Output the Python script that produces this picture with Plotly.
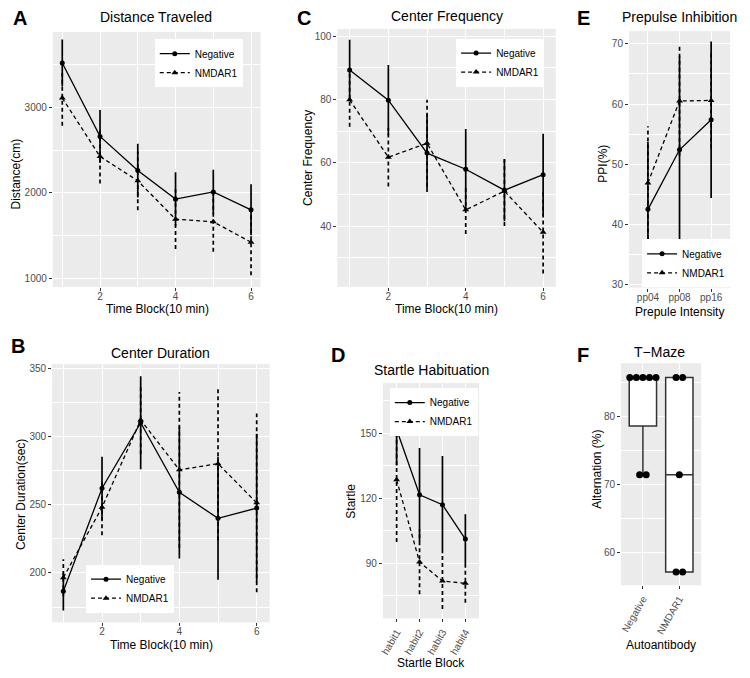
import plotly.graph_objects as go
from collections import Counter

# ---- data ----
blocks = [1, 2, 3, 4, 5, 6]

dist_neg = [3520, 2660, 2260, 1925, 2010, 1800]
dist_neg_sd = [275, 310, 315, 315, 258, 298]
dist_nmdar = [3110, 2425, 2140, 1690, 1660, 1420]
dist_nmdar_sd = [325, 317, 345, 350, 352, 388]

freq_neg = [89.3, 79.8, 63.1, 58.0, 51.4, 56.3]
freq_neg_sd = [9.6, 11.1, 12.3, 12.7, 9.8, 12.9]
freq_nmdar = [79.9, 61.8, 66.2, 45.2, 51.1, 38.1]
freq_nmdar_sd = [8.5, 9.2, 13.7, 7.6, 11.0, 13.0]

dur_neg = [186.5, 262, 310, 259, 240, 247.5]
dur_neg_sd = [14, 23, 34, 48.5, 45, 54.5]
dur_nmdar = [196.5, 248, 312, 275.5, 280, 251.3]
dur_nmdar_sd = [13.5, 20.5, 25, 57, 56, 65.5]

ppi_labels = ['pp04', 'pp08', 'pp16']
ppi_neg = [42.5, 52.4, 57.4]
ppi_neg_sd = [11.2, 15.5, 13.0]
ppi_nmdar = [46.9, 60.5, 60.6]
ppi_nmdar_sd = [9.4, 9.1, 8.0]

startle_labels = ['habit1', 'habit2', 'habit3', 'habit4']
startle_neg = [151.8, 121.6, 117.0, 101.1]
startle_neg_sd = [16.6, 21.7, 22.5, 11.5]
startle_nmdar = [128.5, 90.5, 81.7, 80.6]
startle_nmdar_sd = [28.8, 15.0, 13.0, 9.0]

tmaze_groups = ['Negative', 'NMDAR1']
tmaze_neg = [85.71, 85.71, 85.71, 85.71, 85.71, 71.43, 71.43]
tmaze_nmdar = [85.71, 85.71, 71.43, 57.14, 57.14]

# page has an 8px body margin, so the figure is laid out in page pixels minus OFF
OFF = 8
FW, FH = 750 - OFF, 678 - OFF
FONT = 'Liberation Sans'
TICK_GRAY = '#4D4D4D'
NMDAR_DASH = '4px,3px'


def px_x(x):
    return (x - OFF) / FW


def px_y(y):
    return 1 - (y - OFF) / FH


def dom_x(left, right):
    return [px_x(left), px_x(right)]


def dom_y(top, bottom):
    return [px_y(bottom), px_y(top)]


def axis(domain, rng, dtick=None, tick0=0, minor=None, tickvals=None, ticktext=None,
         angle=0, standoff=0):
    a = dict(domain=domain, range=rng, showgrid=True, gridcolor='white', gridwidth=1.1,
             zeroline=False, showline=False, ticks='outside', ticklen=3, tickwidth=1,
             tickcolor='#333333', tickangle=angle, ticklabelstandoff=standoff,
             tickfont=dict(family=FONT, size=10, color=TICK_GRAY))
    if tickvals is not None:
        a.update(tickmode='array', tickvals=tickvals, ticktext=ticktext)
    else:
        a.update(tickmode='linear', tick0=tick0, dtick=dtick)
    if minor:
        a['minor'] = dict(tickmode='linear', tick0=tick0, dtick=minor, showgrid=True,
                          gridcolor='white', gridwidth=0.5, ticks='')
    return a


def add_series(fig, x, mean, sd, name, xa, ya, legend, nmdar):
    dash = NMDAR_DASH if nmdar else 'solid'
    ex, ey = [], []
    for xi, m, s in zip(x, mean, sd):
        ex += [xi, xi, None]
        ey += [m - s, m + s, None]
    fig.add_trace(go.Scatter(x=ex, y=ey, mode='lines', xaxis=xa, yaxis=ya,
                             line=dict(color='black', width=1.7, dash=dash),
                             showlegend=False, hoverinfo='skip'))
    fig.add_trace(go.Scatter(x=x, y=mean, mode='lines+markers', name=name, xaxis=xa, yaxis=ya,
                             legend=legend, showlegend=True,
                             line=dict(color='black', width=1.3, dash=dash),
                             marker=dict(color='black', size=6 if nmdar else 5,
                                         symbol='triangle-up' if nmdar else 'circle')))


def dot_positions(center, values, step=0.18):
    xs, ys = [], []
    for v, k in sorted(Counter(values).items()):
        for i in range(k):
            xs.append(center + (i - (k - 1) / 2) * step)
            ys.append(v)
    return xs, ys


fig = go.Figure()

# A - distance
add_series(fig, blocks, dist_neg, dist_neg_sd, 'Negative', 'x', 'y', 'legend', False)
add_series(fig, blocks, dist_nmdar, dist_nmdar_sd, 'NMDAR1', 'x', 'y', 'legend', True)
# C - center frequency
add_series(fig, blocks, freq_neg, freq_neg_sd, 'Negative', 'x2', 'y2', 'legend2', False)
add_series(fig, blocks, freq_nmdar, freq_nmdar_sd, 'NMDAR1', 'x2', 'y2', 'legend2', True)
# E - PPI
ppi_x = list(range(len(ppi_labels)))
add_series(fig, ppi_x, ppi_neg, ppi_neg_sd, 'Negative', 'x3', 'y3', 'legend3', False)
add_series(fig, ppi_x, ppi_nmdar, ppi_nmdar_sd, 'NMDAR1', 'x3', 'y3', 'legend3', True)
# B - center duration
add_series(fig, blocks, dur_neg, dur_neg_sd, 'Negative', 'x4', 'y4', 'legend4', False)
add_series(fig, blocks, dur_nmdar, dur_nmdar_sd, 'NMDAR1', 'x4', 'y4', 'legend4', True)
# D - startle
st_x = list(range(len(startle_labels)))
add_series(fig, st_x, startle_neg, startle_neg_sd, 'Negative', 'x5', 'y5', 'legend5', False)
add_series(fig, st_x, startle_nmdar, startle_nmdar_sd, 'NMDAR1', 'x5', 'y5', 'legend5', True)

# F - T-maze boxes + dots
for i, vals in enumerate([tmaze_neg, tmaze_nmdar]):
    fig.add_trace(go.Box(x=[i] * len(vals), y=vals, width=0.75, xaxis='x6', yaxis='y6',
                         fillcolor='white', line=dict(color='#333333', width=1.5),
                         whiskerwidth=0, boxpoints=False, quartilemethod='inclusive',
                         showlegend=False, hoverinfo='skip'))
    dx, dy = dot_positions(i, vals)
    fig.add_trace(go.Scatter(x=dx, y=dy, mode='markers', xaxis='x6', yaxis='y6',
                             marker=dict(color='black', size=7), showlegend=False))

layout = dict(
    width=FW, height=FH, margin=dict(l=0, r=0, t=0, b=0),
    paper_bgcolor='white', plot_bgcolor='#EBEBEB',
    font=dict(family=FONT, color='black'),
    xaxis=axis(dom_x(50, 258.5), [0.75, 6.25], dtick=2, minor=1, standoff=-3),
    yaxis=axis(dom_y(30, 286.7), [895, 3885], dtick=1000, minor=500),
    xaxis2=axis(dom_x(335.7, 555), [0.683, 6.327], dtick=2, minor=1, standoff=-3),
    yaxis2=axis(dom_y(27, 286.5), [20.9, 102.3], dtick=20, minor=10),
    xaxis3=axis(dom_x(628.5, 730), [-0.6, 2.6], tickvals=ppi_x, ticktext=ppi_labels, standoff=-3),
    yaxis3=axis(dom_y(29.3, 287.3), [29.5, 72.1], dtick=10, minor=5),
    xaxis4=axis(dom_x(49.3, 267.7), [0.71, 6.335], dtick=2, minor=1, standoff=-3),
    yaxis4=axis(dom_y(364.3, 624), [163.8, 352.9], dtick=50, minor=25),
    xaxis5=axis(dom_x(381.4, 478), [-0.6, 3.6], tickvals=st_x, ticktext=startle_labels, angle=-60),
    yaxis5=axis(dom_y(383.3, 620), [64.4, 173.3], dtick=30, minor=15),
    xaxis6=axis(dom_x(620.5, 701), [-0.6, 1.6], tickvals=[0, 1], ticktext=tmaze_groups, angle=-60),
    yaxis6=axis(dom_y(363.3, 586.7), [55.2, 87.8], dtick=10, minor=5),
)
for ax in ['xaxis', 'xaxis2', 'xaxis3', 'xaxis4', 'xaxis5', 'xaxis6']:
    n = ax[5:]
    layout[ax]['anchor'] = 'y' + n
    layout['yaxis' + n]['anchor'] = 'x' + n


def legend_box(xpx, ypx, xanchor, yanchor):
    return dict(x=px_x(xpx), y=px_y(ypx), xanchor=xanchor, yanchor=yanchor,
                bgcolor='white', borderwidth=0, itemwidth=30,
                font=dict(family=FONT, size=10, color='black'), tracegroupgap=2)


layout['legend'] = legend_box(240.7, 37.3, 'right', 'top')
layout['legend2'] = legend_box(543.3, 36.7, 'right', 'top')
layout['legend3'] = legend_box(730, 287, 'right', 'bottom')
layout['legend4'] = legend_box(171.7, 614.3, 'right', 'bottom')
layout['legend5'] = legend_box(476.7, 388.3, 'right', 'top')

ann = []


def text(x, y, s, size, angle=0, bold=False):
    ann.append(dict(x=px_x(x), y=px_y(y), xref='paper', yref='paper',
                    text=f'<b>{s}</b>' if bold else s,
                    showarrow=False, textangle=angle, xanchor='center', yanchor='middle',
                    font=dict(family=FONT, size=size, color='black')))


# panel titles
text(154, 15, 'Distance Traveled', 14)
text(445.5, 14, 'Center Frequency', 14)
text(679, 15, 'Prepulse Inhibition', 14)
text(158, 353, 'Center Duration', 14)
text(430, 370, 'Startle Habituation', 14)
text(659, 352, 'T−Maze', 14)
# axis titles
text(155, 309, 'Time Block(10 min)', 12)
text(445, 309, 'Time Block(10 min)', 12)
text(679, 312, 'Prepule Intensity', 12)
text(159, 647, 'Time Block(10 min)', 12)
text(430, 665, 'Startle Block', 12)
text(661, 647, 'Autoantibody', 12)
text(13.5, 173, 'Distance(cm)', 12, -90)
text(306, 157, 'Center Frequency', 12, -90)
text(602, 163, 'PPI(%)', 12, -90)
text(18, 495, 'Center Duration(sec)', 12, -90)
text(349, 502, 'Startle', 12, -90)
text(597, 470, 'Alternation (%)', 12, -90)
# panel letters
text(17, 16.5, 'A', 20, bold=True)
text(302, 16.5, 'C', 20, bold=True)
text(583, 16.5, 'E', 20, bold=True)
text(15, 346, 'B', 20, bold=True)
text(336, 355, 'D', 20, bold=True)
text(582.5, 355, 'F', 20, bold=True)

layout['annotations'] = ann
fig.update_layout(**layout)

fig.write_html("out.html")
